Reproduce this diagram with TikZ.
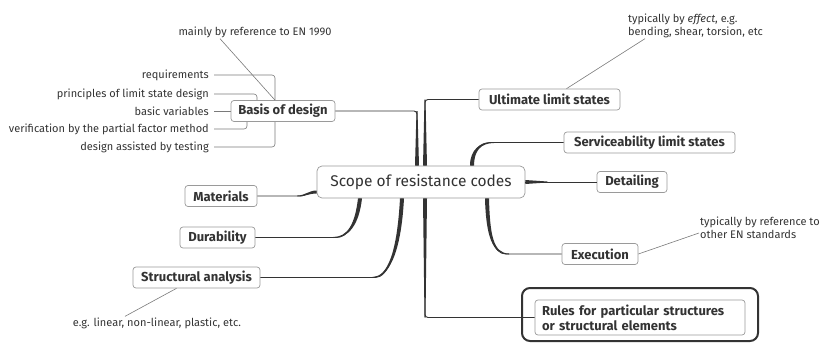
\documentclass[tikz,border=0pt]{standalone}
\usepackage{fontspec}
\setmainfont{Fira Sans}
\usetikzlibrary{calc,backgrounds}
\definecolor{ink}{HTML}{333333}
\definecolor{frame}{HTML}{9A9A9A}
\definecolor{twigcol}{HTML}{7A7A7A}
\tikzset{
  topic/.style={draw=frame, fill=white, rounded corners=3pt, text=ink, line width=0.7pt,
    font=\fontsize{13}{15}\selectfont\bfseries, minimum height=21pt, inner sep=2pt},
  note/.style={text=ink, font=\fontsize{11}{13}\selectfont, inner sep=1pt},
  item/.style={note, anchor=east, inner xsep=5pt},
  branch/.style={draw=ink, line width=0.9pt, rounded corners=3pt},
  twig/.style={draw=twigcol, line width=0.6pt},
}

\begin{document}
\begin{tikzpicture}[x=1pt,y=-1pt]
\useasboundingbox (0,0) rectangle (830,343);

\node[topic, minimum width=208pt, minimum height=32pt, rounded corners=5pt,
  font=\fontsize{15.5}{18}\selectfont] (scope) at (421,182) {Scope of resistance codes};

\node[topic, minimum width=104pt] (basis) at (283,111) {Basis of design};
\node[topic, minimum width=72pt] (mat) at (221,196) {Materials};
\node[topic, minimum width=75pt] (dur) at (217.5,237.5) {Durability};
\node[topic, minimum width=127pt] (struct) at (196.5,277.5) {Structural analysis};

\node[topic, minimum width=141pt] (uls) at (549.5,99.5) {Ultimate limit states};
\node[topic, minimum width=171pt] (sls) at (649.5,142.5) {Serviceability limit states};
\node[topic, minimum width=70pt] (detail) at (632,182) {Detailing};
\node[topic, minimum width=76pt] (exec) at (600,254) {Execution};

\node[draw=ink, line width=2pt, rounded corners=8pt, minimum width=236pt,
  minimum height=53pt] (rulesframe) at (640,314.5) {};
\node[topic, text width=196pt, align=left, inner xsep=7pt, minimum height=35pt]
  (rules) at (640,317.5) {Rules for particular structures\\or structural elements};

\node[note] (mainly) at (255,32) {mainly by reference to EN 1990};
\node[item] (req) at (214,75) {requirements};
\node[item] (pri) at (214,94) {principles of limit state design};
\node[item] (bas) at (214,111) {basic variables};
\node[item] (ver) at (214,129) {verification by the partial factor method};
\node[item] (dat) at (214,147) {design assisted by testing};

\node[note, align=left, anchor=west] (ulsnote) at (627,25.5) {typically by \textit{effect}, e.g.\\bending, shear, torsion, etc};
\node[note, align=left, anchor=west] (execnote) at (699,228) {typically by reference to\\other EN standards};
\node[note] (snote) at (157,323) {e.g. linear, non-linear, plastic, etc.};

\begin{scope}[on background layer]
\coordinate (kL) at ([xshift=-8pt]basis.north);
\draw[twig, rounded corners=3pt] (req.east) -| (kL |- basis.west) |- (dat.east);
\draw[twig, rounded corners=3pt] (pri.east) -| ([xshift=-26pt]basis.north);
\draw[twig, rounded corners=3pt] (ver.east) -| ([xshift=-36pt]basis.south);
\draw[twig] (bas.east) -- (basis.west);
\end{scope}
\draw[twig] ([xshift=-35pt]mainly.south) -- (kL);
\draw[twig] ([xshift=18pt]ulsnote.south west) -- ([xshift=17pt]uls.north);
\draw[twig] (exec.east) -- ([yshift=-5pt]execnote.west);
\draw[twig] ([xshift=-20pt]struct.south) -- ([xshift=-32pt]snote.north);

% trunks
\coordinate (bA) at ([xshift=-4pt]scope.north);
\coordinate (bB) at (bA |- basis.east);
\draw[branch] (bA) |- (basis.east);
\fill[ink] ($(bA)+(-2,0)$) -- ($(bB)+(-0.5,0)$) -- ($(bB)+(0.5,0)$) -- ($(bA)+(2,0)$) -- cycle;

\coordinate (uA) at ([xshift=4pt]scope.north);
\coordinate (uB) at (uA |- uls.west);
\draw[branch] (uA) |- (uls.west);
\fill[ink] ($(uA)+(-2,0)$) -- ($(uB)+(-0.5,0)$) -- ($(uB)+(0.5,0)$) -- ($(uA)+(2,0)$) -- cycle;

\coordinate (rA) at ([xshift=4pt]scope.south);
\coordinate (rB) at (rA |- rules.west);
\draw[branch] (rA) |- (rules.west);
\fill[ink] ($(rA)+(-2,0)$) -- ($(rB)+(-0.5,0)$) -- ($(rB)+(0.5,0)$) -- ($(rA)+(2,0)$) -- cycle;

\coordinate (sA) at ([xshift=51pt]scope.north);
\coordinate (sB) at ($(sA |- sls.west)+(22,0)$);
\draw[branch] (sA) .. controls +(0,-16) and +(-14,0) .. (sB) -- (sls.west);
\fill[ink] ($(sA)+(-2,0)$) .. controls +(0,-16) and +(-14,0) .. ($(sB)+(0,-0.5)$)
  -- ($(sB)+(0,0.5)$) .. controls +(-13,0) and +(0,-15) .. ($(sA)+(2,0)$) -- cycle;

\coordinate (dtB) at ($(scope.east)+(22,0)$);
\draw[branch] (scope.east) -- (detail.west);
\fill[ink] ($(scope.east)+(0,-2)$) -- ($(dtB)+(0,-0.5)$) -- ($(dtB)+(0,0.5)$) -- ($(scope.east)+(0,2)$) -- cycle;

\coordinate (eA) at ([xshift=66pt]scope.south);
\coordinate (eB) at ($(eA |- exec.west)+(22,0)$);
\draw[branch] (eA) .. controls +(1,36) and +(-16,0) .. (eB) -- (exec.west);
\fill[ink] ($(eA)+(2,0)$) .. controls +(1,36) and +(-16,0) .. ($(eB)+(0,-0.5)$)
  -- ($(eB)+(0,0.5)$) .. controls +(-17,0) and +(1,37) .. ($(eA)+(-2,0)$) -- cycle;

\coordinate (mA) at ([yshift=-10pt]scope.west);
\coordinate (mB) at ($(mat.east)+(40,0)$);
\draw[branch] (mA) .. controls +(-8,0) and +(8,0) .. (mB) -- (mat.east);
\fill[ink] ($(mA)+(0,-1.5)$) .. controls +(-8,0) and +(8,0) .. ($(mB)+(0,-0.5)$)
  -- ($(mB)+(0,0.5)$) .. controls +(8,0) and +(-8,0) .. ($(mA)+(0,1.5)$) -- cycle;

\coordinate (duA) at ([xshift=-61pt]scope.south);
\coordinate (duB) at ($(dur.east)+(78,0)$);
\draw[branch] (duA) .. controls +(-3,26) and +(14,0) .. (duB) -- (dur.east);
\fill[ink] ($(duA)+(-2,0)$) .. controls +(-3,26) and +(14,0) .. ($(duB)+(0,-0.5)$)
  -- ($(duB)+(0,0.5)$) .. controls +(15,0) and +(-3,27) .. ($(duA)+(2,0)$) -- cycle;

\coordinate (stA) at ([xshift=-19pt]scope.south);
\coordinate (stB) at ($(struct.east)+(112,0)$);
\draw[branch] (stA) .. controls +(-3,55) and +(15,0) .. (stB) -- (struct.east);
\fill[ink] ($(stA)+(-2,0)$) .. controls +(-3,55) and +(15,0) .. ($(stB)+(0,-0.5)$)
  -- ($(stB)+(0,0.5)$) .. controls +(16,0) and +(-3,56) .. ($(stA)+(2,0)$) -- cycle;

\end{tikzpicture}
\end{document}
